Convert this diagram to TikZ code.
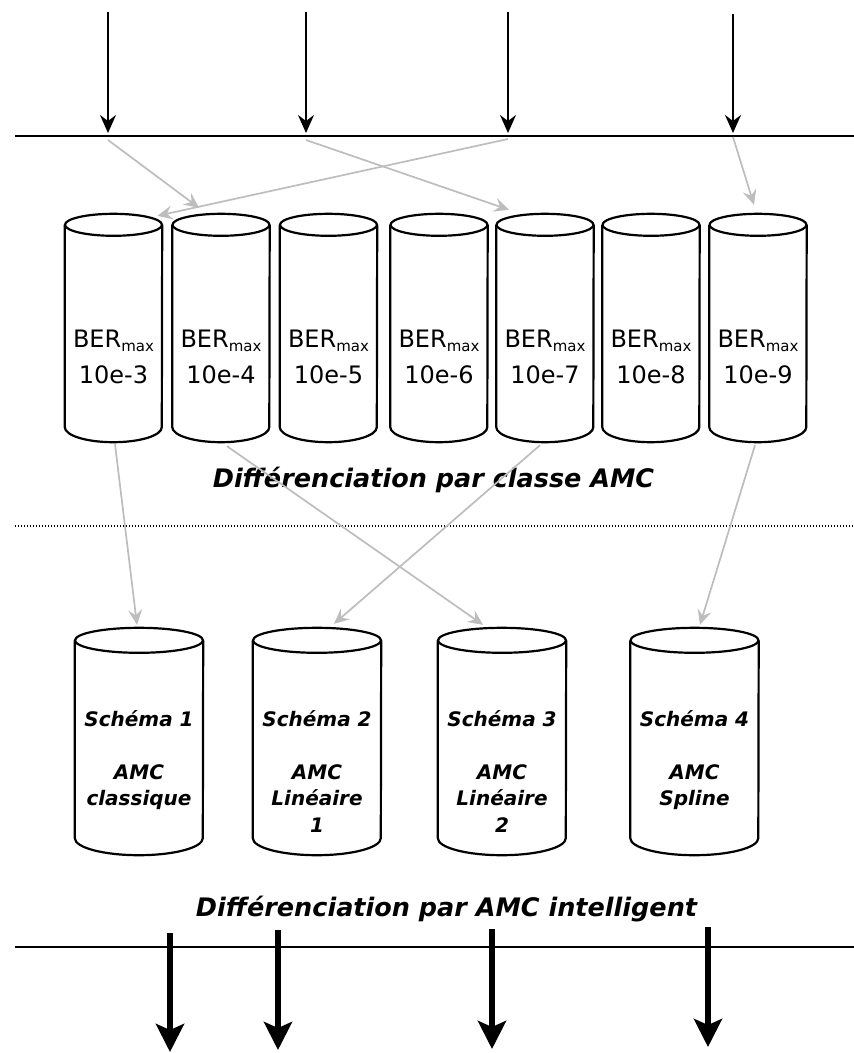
\documentclass[tikz,border=0pt]{standalone}
\usepackage{fontspec}
\setmainfont{DejaVu Sans}[BoldFont={DejaVu Sans Bold},ItalicFont={DejaVu Sans Oblique},BoldItalicFont={DejaVu Sans Bold Oblique}]
\usetikzlibrary{arrows.meta}

% subscript used in the BER labels
\newcommand\lowtext[1]{\raisebox{-4.5pt}{\fontsize{15}{15}\selectfont #1}}

% outline of a cylinder drawn around a named box: name, half width, top radius, bottom depth
\newcommand\cylinder[4]{%
  \draw[cylline] ([yshift=-#3]#1.north) ellipse [x radius=#2, y radius=#3];
  \draw[cylline] ([yshift=-#3]#1.north west) -- ([yshift=#4]#1.south west)
    arc [start angle=180, end angle=360, x radius=#2, y radius=#4]
    -- ([yshift=-#3]#1.north east);
}

\tikzset{
  cylline/.style={line width=2.2pt, line join=round},
  berbox/.style={inner sep=0, minimum width=97pt, minimum height=228pt},
  schbox/.style={inner sep=0, minimum width=128pt, minimum height=227pt},
  bertext/.style={anchor=north, inner sep=0, align=center,
    font=\fontsize{24}{36}\selectfont},
  schtext/.style={anchor=north, inner sep=0, align=center,
    font=\fontsize{20}{26.5}\selectfont\bfseries\itshape},
  caption/.style={anchor=base, inner sep=0,
    font=\fontsize{25.5}{30}\selectfont\bfseries\itshape},
  bus/.style={line width=2.2pt},
  inarrow/.style={line width=2.2pt, -{Stealth[length=18pt,width=16pt,inset=6pt]}},
  maparrow/.style={line width=1.7pt, draw={rgb,255:red,189;green,189;blue,189},
    -{Stealth[length=15pt,width=14pt,inset=5.5pt]}},
  outarrow/.style={line width=6pt, -{Stealth[length=28pt,width=28pt,inset=6pt]}},
}

\begin{document}
\begin{tikzpicture}[x=1pt,y=1pt]
\useasboundingbox (0,0) rectangle (854,-1053);

% input bus and incoming flows
\coordinate (busL) at (15,-136);
\coordinate (busR) at (854,-136);
\draw[bus] (busL) -- (busR);
\foreach \i/\x/\t in {1/108/12, 2/306/12, 3/508/12, 4/733/14} {
  \coordinate (src\i) at (\x,-\t);
  \coordinate (in\i) at (\x,-136);
  \coordinate (tap\i) at (\x,-140);
  \draw[inarrow] (src\i) -- ([yshift=3]in\i);
}

% BER classes
\foreach \i/\x/\e in {1/113.5/3, 2/221/4, 3/328.5/5, 4/439/6, 5/545/7, 6/651/8, 7/758/9} {
  \node[berbox] (b\i) at (\x,-328) {};
  \cylinder{b\i}{48.5}{11}{15}
  \node[bertext] (bt\i) at (\x,-329.5) {BER\lowtext{max}\\10e-\e};
}

% mapping of the flows onto the classes
\draw[maparrow] (tap1) -- ([xshift=-22,yshift=6]b2.north);
\draw[maparrow] (tap2) -- ([xshift=-36,yshift=4]b5.north);
\draw[maparrow] ([yshift=1]tap3) -- ([xshift=44,yshift=-2]b1.north);
\draw[maparrow] ([yshift=3]tap4) -- ([xshift=-4,yshift=9]b7.north);

\node[caption] (cap1) at (433.5,-487) {Différenciation par classe AMC};

% separation between the two levels
\coordinate (sepL) at (15,-526);
\coordinate (sepR) at (854,-526);
\draw[line width=1.4pt, dash pattern=on 1.4pt off 1.6pt] (sepL) -- (sepR);

% AMC schemes
\foreach \i/\x in {1/139, 2/317, 3/502, 4/694.5} {
  \node[schbox] (s\i) at (\x,-741.5) {};
  \cylinder{s\i}{64}{12.5}{17}
}
\node[schtext] (st1) at (139,-710) {Schéma 1\\[26.5pt]AMC\\classique};
\node[schtext] (st2) at (317,-710) {Schéma 2\\[26.5pt]AMC\\Linéaire\\1};
\node[schtext] (st3) at (502,-710) {Schéma 3\\[26.5pt]AMC\\Linéaire\\2};
\node[schtext] (st4) at (694.5,-710) {Schéma 4\\[26.5pt]AMC\\Spline};

% mapping of the classes onto the schemes
\draw[maparrow] ([xshift=1.5,yshift=-2]b1.south) -- ([xshift=-2,yshift=3]s1.north);
\draw[maparrow] ([xshift=6,yshift=-4]b2.south) -- ([xshift=-19,yshift=3]s3.north);
\draw[maparrow] ([xshift=-5,yshift=-3]b5.south) -- ([xshift=17,yshift=4]s2.north);
\draw[maparrow] ([xshift=-3,yshift=-3]b7.south) -- ([xshift=5.5,yshift=3]s4.north);

\node[caption] (cap2) at (446.5,-916) {Différenciation par AMC intelligent};

% output bus and outgoing flows
\coordinate (obusL) at (15,-947);
\coordinate (obusR) at (854,-947);
\draw[bus] (obusL) -- (obusR);
\foreach \i/\x/\t/\b in {1/170/933/1052, 2/278/930/1050, 3/492/929/1049, 4/708/927/1047} {
  \coordinate (out\i) at (\x,-\t);
  \coordinate (dst\i) at (\x,-\b);
  \draw[outarrow] (out\i) -- (dst\i);
}
\end{tikzpicture}
\end{document}
